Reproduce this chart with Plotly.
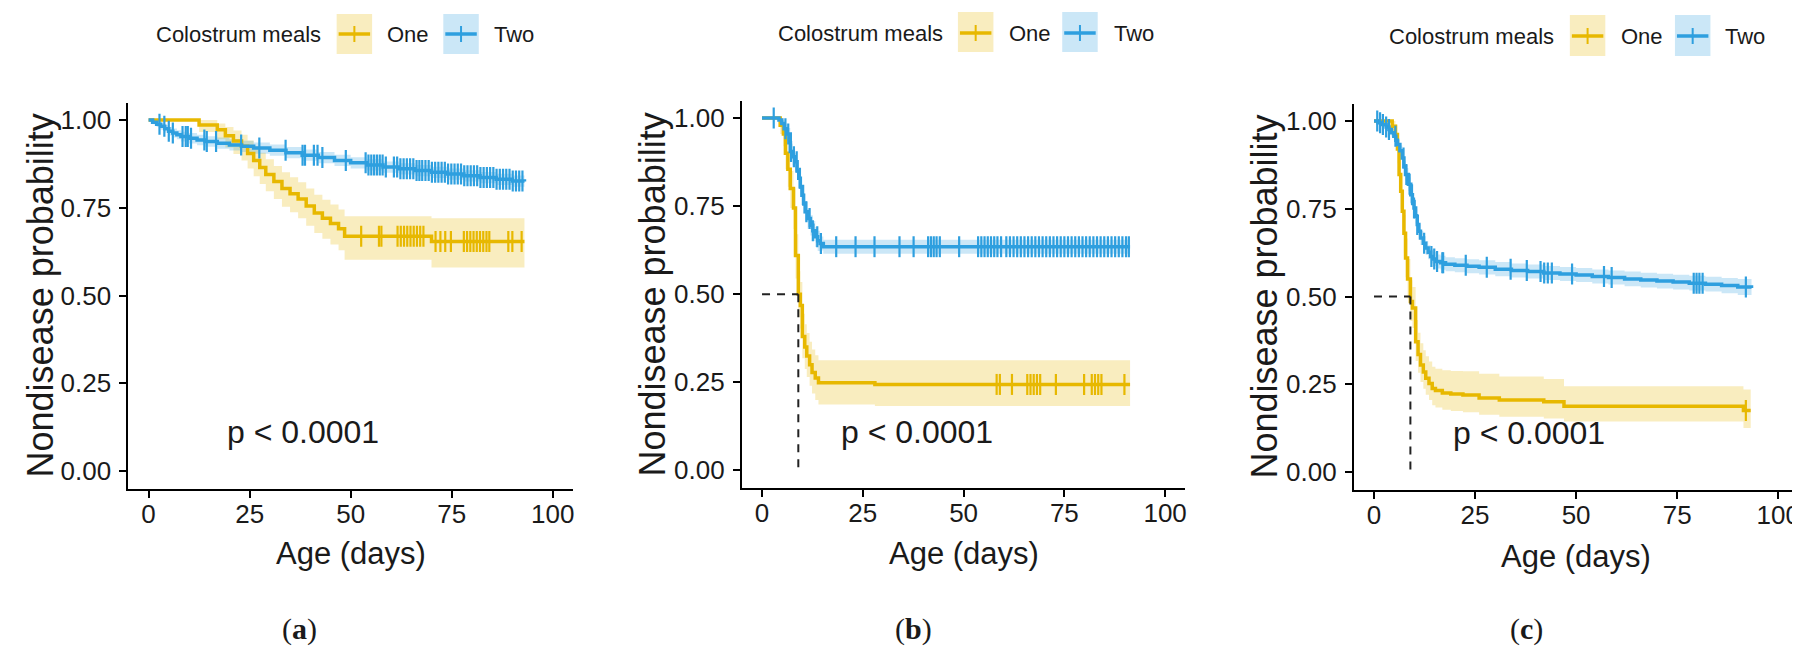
import numpy as np
import plotly.graph_objects as go

W, H = 1800, 646
ORANGE = "#E7B800"
BLUE = "#2E9FDF"
ORANGE_FILL = "rgba(231,184,0,0.25)"
BLUE_FILL = "rgba(46,159,223,0.25)"
SANS = "Liberation Sans, Arial, sans-serif"
SERIF = "Liberation Serif, Times New Roman, serif"

# ---------------- text / categories ----------------
groups = ["One", "Two"]
legend_title = "Colostrum meals"
x_title = "Age (days)"
y_title = "Nondisease probability"
pval_text = "p &lt; 0.0001"
panel_labels = ["a", "b", "c"]
x_ticks = [0, 25, 50, 75, 100]
y_ticks = [0.0, 0.25, 0.50, 0.75, 1.00]
pval_pos = [20, 0.11]

# ---------------- panel (a) ----------------
a_one_t = [0, 12.5, 17, 19, 21, 23, 24.5, 26, 27.5, 29, 31, 33, 35, 37, 39, 41, 43, 45, 47, 48.5, 70, 93]
a_one_s = [1.0, 0.986, 0.972, 0.955, 0.94, 0.925, 0.905, 0.885, 0.865, 0.845, 0.825, 0.805, 0.79, 0.775, 0.755, 0.735, 0.72, 0.705, 0.69, 0.669, 0.654, 0.654]
a_one_up = [1.0, 1.0, 0.99, 0.98, 0.97, 0.958, 0.942, 0.925, 0.907, 0.888, 0.869, 0.851, 0.837, 0.823, 0.805, 0.787, 0.773, 0.759, 0.745, 0.726, 0.72, 0.72]
a_one_lo = [1.0, 0.966, 0.945, 0.922, 0.903, 0.885, 0.862, 0.84, 0.818, 0.797, 0.775, 0.753, 0.737, 0.72, 0.699, 0.678, 0.662, 0.645, 0.629, 0.602, 0.58, 0.58]
a_one_cens = [52.6, 57.0, 57.6, 61.6, 62.4, 63.2, 64.0, 64.8, 65.6, 66.4, 67.2, 68.0, 71.0, 72.2, 73.4, 74.8,
              78.0, 78.8, 79.6, 80.4, 81.2, 82.0, 82.8, 83.6, 84.3, 89.0, 90.0, 92.3]

a_two_t = [0, 1, 2, 3, 4, 5, 6, 7, 8, 10, 12, 14, 17, 20, 23, 26, 30, 34, 38, 42, 46, 50, 54, 58, 62, 66, 70, 74, 78, 82, 86, 90, 93]
a_two_s = [1.0, 0.994, 0.988, 0.982, 0.975, 0.968, 0.963, 0.958, 0.953, 0.948, 0.943, 0.939, 0.934, 0.929, 0.925, 0.92, 0.914, 0.907, 0.9, 0.893, 0.885, 0.878, 0.872, 0.866, 0.861, 0.856, 0.851, 0.846, 0.841, 0.836, 0.831, 0.826, 0.825]
a_two_up = [1.0, 1.0, 0.996, 0.992, 0.986, 0.98, 0.976, 0.971, 0.967, 0.963, 0.958, 0.954, 0.95, 0.945, 0.941, 0.936, 0.93, 0.923, 0.916, 0.909, 0.901, 0.894, 0.888, 0.882, 0.877, 0.872, 0.867, 0.862, 0.857, 0.852, 0.847, 0.842, 0.841]
a_two_lo = [1.0, 0.988, 0.98, 0.972, 0.964, 0.956, 0.95, 0.945, 0.939, 0.933, 0.928, 0.924, 0.918, 0.913, 0.909, 0.904, 0.898, 0.891, 0.884, 0.877, 0.869, 0.862, 0.856, 0.85, 0.845, 0.84, 0.835, 0.83, 0.825, 0.82, 0.815, 0.81, 0.809]
a_two_cens = [2.7, 3.9, 5.0, 6.0, 8.4, 9.2, 9.7, 10.5, 13.8, 14.4, 16.7, 22.9, 27.4, 33.9, 38.1, 38.7, 40.9, 41.8,
              43.0, 48.8, 53.7, 54.4, 55.1, 55.8, 56.5, 57.2, 57.9, 58.7, 60.7, 61.5, 62.3, 63.1, 63.9, 64.7,
              65.5, 66.3, 67.0, 67.7, 68.5, 69.3, 70.1, 70.9, 71.7, 72.5, 73.3, 74.1, 74.9, 75.7, 76.5, 77.3,
              78.1, 78.9, 79.7, 80.5, 81.3, 82.1, 82.9, 83.7, 84.5, 85.3, 86.1, 86.9, 87.7, 88.5, 89.3, 90.1,
              90.9, 91.7, 92.5]

# ---------------- panel (b) ----------------
b_one_t = [0, 4.5, 5.3, 5.8, 6.4, 7.0, 7.8, 8.3, 9.0, 9.5, 10.0, 10.6, 11.1, 11.8, 12.4, 13.2, 14.0, 28, 91.3]
b_one_s = [1.0, 0.98, 0.955, 0.9, 0.855, 0.8, 0.745, 0.61, 0.5, 0.468, 0.38, 0.35, 0.325, 0.3, 0.278, 0.262, 0.249, 0.244, 0.244]
b_one_up = [1.0, 1.0, 0.985, 0.94, 0.9, 0.85, 0.8, 0.67, 0.565, 0.535, 0.445, 0.415, 0.39, 0.365, 0.343, 0.327, 0.313, 0.313, 0.313]
b_one_lo = [1.0, 0.955, 0.92, 0.855, 0.805, 0.745, 0.685, 0.545, 0.435, 0.403, 0.318, 0.288, 0.265, 0.24, 0.218, 0.2, 0.187, 0.183, 0.183]
b_one_cens = [58.2, 59.0, 62.0, 65.8, 66.6, 67.4, 68.2, 69.0, 72.9, 79.9, 81.8, 82.6, 83.4, 84.2, 89.9]

b_two_t = [0, 4.2, 4.9, 5.5, 6.2, 7.0, 7.6, 8.2, 8.7, 9.1, 9.5, 9.9, 10.3, 10.7, 11.3, 12.0, 12.6, 13.2, 13.8, 14.4, 15.2, 91.3]
b_two_s = [1.0, 0.995, 0.985, 0.97, 0.955, 0.905, 0.89, 0.876, 0.85, 0.829, 0.805, 0.781, 0.758, 0.734, 0.715, 0.696, 0.68, 0.663, 0.652, 0.644, 0.635, 0.635]
b_two_up = [1.0, 1.0, 0.995, 0.985, 0.972, 0.927, 0.913, 0.9, 0.875, 0.855, 0.832, 0.808, 0.786, 0.762, 0.743, 0.724, 0.708, 0.691, 0.68, 0.664, 0.655, 0.655]
b_two_lo = [1.0, 0.985, 0.97, 0.953, 0.936, 0.883, 0.866, 0.851, 0.824, 0.802, 0.777, 0.753, 0.729, 0.705, 0.686, 0.667, 0.651, 0.634, 0.623, 0.624, 0.615, 0.615]
b_two_cens = [2.9, 5.8, 6.5, 7.2, 7.9, 8.6, 9.4, 10.2, 11.0, 11.8, 12.6, 13.7, 14.6, 18.4, 23.2, 27.9, 34.1, 37.6,
              41.2, 41.9, 42.6, 43.3, 44.1, 48.9, 53.6, 54.4, 55.2, 56.0, 56.8, 57.6, 58.4, 59.3, 60.6, 61.5,
              62.4, 63.3, 64.2, 65.1, 66.0, 66.9, 67.8, 68.7, 69.6, 70.5, 71.4, 72.3, 73.2, 74.1, 75.0, 75.9,
              76.8, 77.7, 78.6, 79.5, 80.4, 81.3, 82.2, 83.1, 84.0, 84.9, 85.8, 86.7, 87.6, 88.5, 89.4, 90.3, 91.0]

# ---------------- panel (c) ----------------
c_one_t = [0, 4.5, 5.3, 5.8, 6.2, 6.6, 7.0, 7.4, 7.8, 8.3, 9.0, 9.5, 10.3, 10.9, 11.5, 12.2, 12.8, 13.6, 14.4, 15.2, 16.9, 19, 22, 26, 31, 42, 47, 91.4, 93.2]
c_one_s = [1.0, 0.985, 0.962, 0.92, 0.848, 0.8, 0.743, 0.68, 0.61, 0.55, 0.486, 0.467, 0.371, 0.335, 0.305, 0.285, 0.267, 0.252, 0.238, 0.232, 0.225, 0.222, 0.219, 0.211, 0.205, 0.2, 0.187, 0.175, 0.175]
c_one_up = [1.0, 1.0, 0.99, 0.955, 0.89, 0.845, 0.792, 0.732, 0.665, 0.607, 0.546, 0.527, 0.433, 0.397, 0.367, 0.347, 0.33, 0.315, 0.3, 0.294, 0.29, 0.288, 0.287, 0.28, 0.272, 0.265, 0.244, 0.235, 0.235]
c_one_lo = [1.0, 0.96, 0.93, 0.88, 0.8, 0.75, 0.69, 0.625, 0.555, 0.494, 0.43, 0.41, 0.316, 0.283, 0.256, 0.237, 0.22, 0.205, 0.19, 0.184, 0.177, 0.174, 0.17, 0.163, 0.157, 0.152, 0.144, 0.125, 0.125]
c_one_cens = [92.0]

c_two_t = [0, 1, 2, 3, 3.7, 4.3, 4.9, 5.4, 5.8, 6.4, 7.0, 7.4, 7.8, 8.5, 9.1, 9.5, 9.9, 10.3, 10.7, 11.1, 11.5, 12.2, 12.8, 13.4, 14.0, 14.6, 15.3, 16.5, 17.7, 20, 23, 26, 30, 34, 38, 42, 46, 50, 54, 58, 62, 66, 70, 74, 78, 82, 86, 90, 93.4]
c_two_s = [1.0, 0.995, 0.99, 0.983, 0.976, 0.967, 0.957, 0.945, 0.933, 0.915, 0.895, 0.87, 0.848, 0.82, 0.79, 0.771, 0.752, 0.728, 0.705, 0.686, 0.667, 0.652, 0.638, 0.626, 0.614, 0.607, 0.6, 0.596, 0.592, 0.589, 0.586, 0.583, 0.578, 0.574, 0.571, 0.567, 0.564, 0.561, 0.557, 0.554, 0.55, 0.547, 0.544, 0.541, 0.538, 0.535, 0.531, 0.527, 0.524]
c_two_up = [1.0, 1.0, 0.997, 0.992, 0.986, 0.978, 0.969, 0.958, 0.947, 0.93, 0.911, 0.887, 0.866, 0.839, 0.81, 0.791, 0.772, 0.748, 0.725, 0.706, 0.687, 0.672, 0.658, 0.646, 0.634, 0.627, 0.62, 0.616, 0.612, 0.609, 0.606, 0.603, 0.598, 0.594, 0.591, 0.587, 0.584, 0.581, 0.577, 0.574, 0.571, 0.568, 0.565, 0.562, 0.559, 0.556, 0.553, 0.55, 0.547]
c_two_lo = [1.0, 0.99, 0.983, 0.974, 0.966, 0.956, 0.945, 0.932, 0.919, 0.9, 0.879, 0.853, 0.83, 0.801, 0.77, 0.751, 0.732, 0.708, 0.685, 0.666, 0.647, 0.632, 0.618, 0.606, 0.594, 0.587, 0.58, 0.576, 0.572, 0.569, 0.566, 0.563, 0.558, 0.554, 0.551, 0.547, 0.544, 0.541, 0.537, 0.534, 0.529, 0.526, 0.523, 0.52, 0.517, 0.514, 0.509, 0.504, 0.501]
c_two_cens = [0.8, 1.5, 2.2, 3.0, 3.7, 5.3, 7.3, 8.0, 8.8, 9.4, 9.9, 10.7, 12.4, 14.2, 14.9, 15.6, 16.9, 17.1,
              22.7, 27.9, 33.8, 37.8, 41.2, 42.1, 43.0, 44.0, 49.0, 56.9, 58.8, 79.1, 79.8, 80.5, 81.3, 92.0]

panels_data = [
    {"One": (a_one_t, a_one_s, a_one_up, a_one_lo, a_one_cens),
     "Two": (a_two_t, a_two_s, a_two_up, a_two_lo, a_two_cens), "median": False},
    {"One": (b_one_t, b_one_s, b_one_up, b_one_lo, b_one_cens),
     "Two": (b_two_t, b_two_s, b_two_up, b_two_lo, b_two_cens), "median": True},
    {"One": (c_one_t, c_one_s, c_one_up, c_one_lo, c_one_cens),
     "Two": (c_two_t, c_two_s, c_two_up, c_two_lo, c_two_cens), "median": True},
]

# ---------------- layout geometry (pixels) ----------------
geom = [
    dict(x0=120.5, x1=565.6, y0=94.5, y1=480.5, ytx=33, xty=545, capx=292, capy=621,
         leg=dict(tx=146, b1=329, t1=377.6, b2=435.8, t2=484.8, yc=26, yt=6, yb=46)),
    dict(x0=734.7, x1=1178.6, y0=92.5, y1=480, ytx=645, xty=545, capx=907, capy=621,
         leg=dict(tx=768.4, b1=951, t1=999.9, b2=1055.4, t2=1105, yc=25, yt=4, yb=44)),
    dict(x0=1347.3, x1=1792.4, y0=95.5, y1=481.5, ytx=1257.5, xty=548, capx=1520, capy=621,
         leg=dict(tx=1380.6, b1=1563.6, t1=1612.6, b2=1668.8, t2=1717.4, yc=28, yt=7, yb=48)),
]
BOXW = 35.5


def fx(px):
    return px / W


def fy(py):
    return 1 - py / H


colors = {"One": (ORANGE, ORANGE_FILL), "Two": (BLUE, BLUE_FILL)}

fig = go.Figure()
shapes, annotations = [], []

for i, (pdata, g) in enumerate(zip(panels_data, geom)):
    n = i + 1
    xa, ya = f"x{n}" if n > 1 else "x", f"y{n}" if n > 1 else "y"
    for grp in groups:
        t, s, up, lo, cens = pdata[grp]
        col, fill = colors[grp]
        fig.add_trace(go.Scatter(x=t, y=lo, mode="lines", line=dict(width=0, shape="hv"),
                                 xaxis=xa, yaxis=ya, showlegend=False, hoverinfo="skip"))
        fig.add_trace(go.Scatter(x=t, y=up, mode="lines", line=dict(width=0, shape="hv"),
                                 fill="tonexty", fillcolor=fill,
                                 xaxis=xa, yaxis=ya, showlegend=False, hoverinfo="skip"))
    for grp in groups:
        t, s, up, lo, cens = pdata[grp]
        col, fill = colors[grp]
        fig.add_trace(go.Scatter(x=t, y=s, mode="lines", line=dict(color=col, width=3.5, shape="hv"),
                                 xaxis=xa, yaxis=ya, showlegend=False))
        ta, sa = np.array(t), np.array(s)
        idx = np.searchsorted(ta, np.array(cens), side="right") - 1
        fig.add_trace(go.Scatter(x=cens, y=sa[idx], mode="markers",
                                 marker=dict(symbol="line-ns", size=15, line=dict(color=col, width=2.2)),
                                 xaxis=xa, yaxis=ya, showlegend=False))
    if pdata["median"]:
        t, s = np.array(pdata["One"][0]), np.array(pdata["One"][1])
        med = float(t[np.argmax(s <= 0.5)])
        fig.add_trace(go.Scatter(x=[0, med], y=[0.5, 0.5], mode="lines",
                                 line=dict(color="#222", width=2, dash="8px,7px"),
                                 xaxis=xa, yaxis=ya, showlegend=False))
        fig.add_trace(go.Scatter(x=[med, med], y=[0.5, 0], mode="lines",
                                 line=dict(color="#222", width=2, dash="8px,7px"),
                                 xaxis=xa, yaxis=ya, showlegend=False))

    axis_common = dict(showline=True, linecolor="black", linewidth=2, ticks="outside", ticklen=7,
                       tickwidth=2, tickcolor="black", showgrid=False, zeroline=False,
                       tickfont=dict(family=SANS, size=26, color="#1a1a1a"))
    fig.update_layout(**{
        f"xaxis{n if n > 1 else ''}": dict(domain=[fx(g["x0"]), fx(g["x1"])], range=[-5, 105],
                                           tickvals=x_ticks, anchor=ya, ticklabelstandoff=-6,
                                           **axis_common),
        f"yaxis{n if n > 1 else ''}": dict(domain=[fy(g["y1"]), fy(g["y0"])], range=[-0.05, 1.05],
                                           tickvals=y_ticks, tickformat=".2f", anchor=xa,
                                           ticklabelstandoff=3, **axis_common),
    })

    # p-value
    annotations.append(dict(x=pval_pos[0], y=pval_pos[1], xref=xa, yref=ya, text=pval_text,
                            showarrow=False, xanchor="left", yanchor="middle", xshift=-4,
                            font=dict(family=SANS, size=32, color="#1a1a1a")))
    # axis titles
    annotations.append(dict(x=fx((g["x0"] + g["x1"]) / 2), y=fy(g["xty"]), xref="paper", yref="paper",
                            text=x_title, showarrow=False, xanchor="center", yanchor="middle",
                            font=dict(family=SANS, size=31, color="#1a1a1a")))
    annotations.append(dict(x=fx(g["ytx"]), y=fy((g["y0"] + g["y1"]) / 2), xref="paper", yref="paper",
                            text=y_title, showarrow=False, xanchor="center", yanchor="middle",
                            textangle=-90, font=dict(family=SANS, size=36, color="#1a1a1a")))
    # caption
    annotations.append(dict(x=fx(g["capx"]), y=fy(g["capy"]), xref="paper", yref="paper",
                            text=f"(<b>{panel_labels[i]}</b>)", showarrow=False,
                            xanchor="center", yanchor="middle",
                            font=dict(family=SERIF, size=30, color="#1a1a1a")))
    # legend
    L = g["leg"]
    annotations.append(dict(x=fx(L["tx"]), y=fy(L["yc"]), xref="paper", yref="paper",
                            text=legend_title, showarrow=False, xanchor="left", yanchor="middle",
                            font=dict(family=SANS, size=22, color="#1a1a1a")))
    for grp, bx, tx in [("One", L["b1"], L["t1"]), ("Two", L["b2"], L["t2"])]:
        col, fill = colors[grp]
        shapes.append(dict(type="rect", xref="paper", yref="paper", x0=fx(bx), x1=fx(bx + BOXW),
                           y0=fy(L["yb"]), y1=fy(L["yt"]), fillcolor=fill, line=dict(width=0)))
        shapes.append(dict(type="line", xref="paper", yref="paper", x0=fx(bx + 2), x1=fx(bx + BOXW - 2),
                           y0=fy(L["yc"]), y1=fy(L["yc"]), line=dict(color=col, width=3.5)))
        shapes.append(dict(type="line", xref="paper", yref="paper", x0=fx(bx + BOXW / 2), x1=fx(bx + BOXW / 2),
                           y0=fy(L["yc"] - 8), y1=fy(L["yc"] + 8), line=dict(color=col, width=2)))
        annotations.append(dict(x=fx(tx), y=fy(L["yc"]), xref="paper", yref="paper", text=grp,
                                showarrow=False, xanchor="left", yanchor="middle",
                                font=dict(family=SANS, size=22, color="#1a1a1a")))

fig.update_layout(width=W, height=H, autosize=False, margin=dict(l=0, r=0, t=0, b=0),
                  paper_bgcolor="white", plot_bgcolor="white", showlegend=False,
                  shapes=shapes, annotations=annotations)

fig.write_html("out.html")
